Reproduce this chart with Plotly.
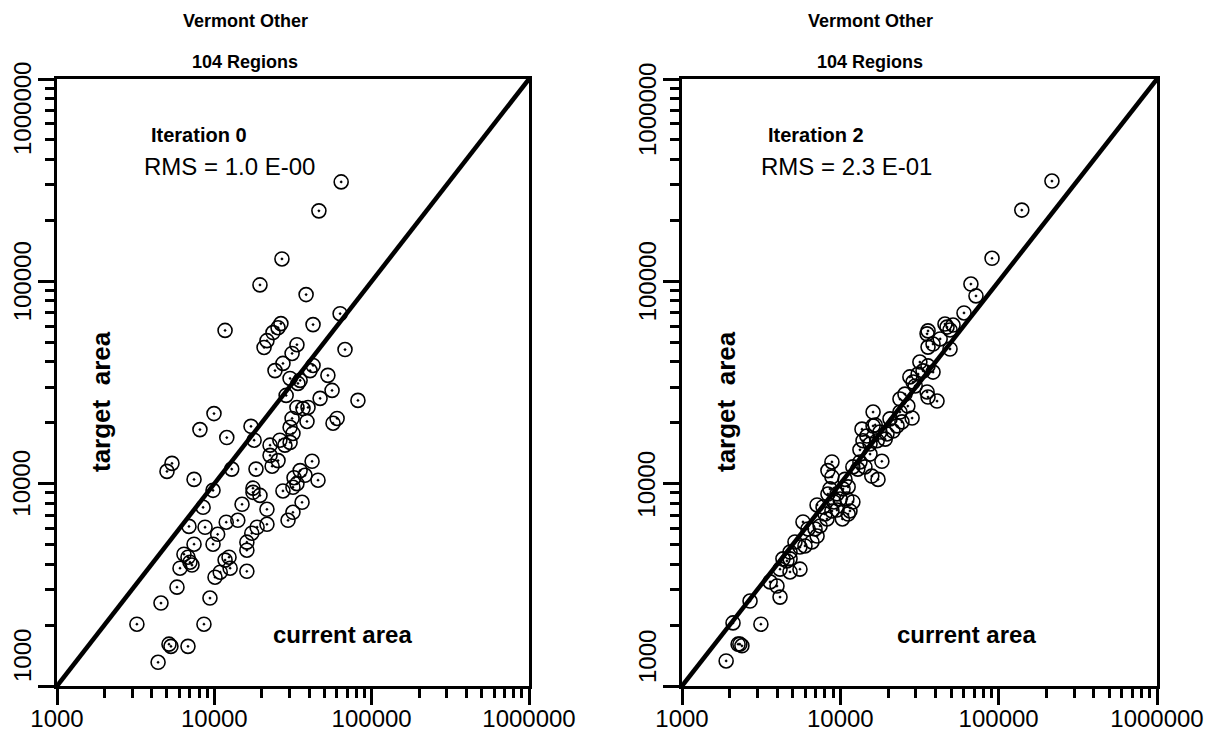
import math
import plotly.graph_objects as go

W, H = 1207, 735

# ---------------- data ----------------
tick_vals = [1000, 10000, 100000, 1000000]
tick_text = ["1000", "10000", "100000", "1000000"]
diag = [1000, 1000000]

panel_title = "Vermont Other"
panel_subtitle = "104 Regions"
iter_labels = ["Iteration 0", "Iteration 2"]
rms_labels = ["RMS = 1.0 E-00", "RMS = 2.3 E-01"]
x_label = "current area"
y_label = "target\u00a0\u00a0area"

# Iteration 0: current area vs target area
iter0_current = [64000, 46200, 26900, 19500, 38300, 63000, 11700, 42400, 67700, 26500,
                 25400, 23600, 21600, 20700, 33500, 31200, 27300, 24300, 30300, 42400,
                 40600, 52700, 35100, 34000, 56000, 81800,
                 33500, 36600, 39400, 31200, 38800, 60300, 56800, 30300, 31600, 30300,
                 9950, 8100, 12000, 17100, 17900, 22600, 26100, 5380, 5000, 7430,
                 12900, 18400, 25400, 23300, 41800, 32100, 37700, 45600, 33500, 31600,
                 27300, 17600, 17600, 9810, 8480, 15000, 21600, 21600, 36100, 31600,
                 29400, 6900, 8730, 11900, 10500, 9810, 7430, 18700, 17300, 16100,
                 16100, 6410, 6800, 7210, 6050, 12400, 12600, 10900, 10100, 16100,
                 5790, 9380, 4580, 3220, 8590, 5150, 5300, 6800, 4390,
                 28600, 22600, 35100, 19500, 11700, 7000, 47000, 28100, 14100]
iter0_target = [310000, 223000, 129000, 96000, 86000, 69200, 57200, 61100, 46000, 61800,
                59000, 55800, 50900, 47100, 48600, 44000, 39300, 36200, 33100, 38400,
                36200, 34300, 32400, 31300, 28900, 25800,
                23800, 23500, 23800, 21000, 20300, 21000, 19900, 19000, 17700, 16000,
                22200, 18500, 16900, 19200, 16400, 15500, 16400, 12600, 11500, 10500,
                11800, 11800, 13000, 12200, 12900, 10700, 11000, 10400, 10000, 9600,
                9200, 9500, 9060, 9270, 7640, 7910, 7470, 6300, 8090, 7220,
                6590, 6150, 6090, 6450, 5620, 5020, 5020, 6090, 5690, 5140,
                4690, 4480, 4330, 3960, 3820, 4330, 3820, 3650, 3450, 3690,
                3080, 2720, 2570, 2020, 2020, 1610, 1570, 1570, 1310,
                27300, 13800, 11600, 8750, 4190, 4090, 26400, 15500, 6590]

# Iteration 2: current area vs target area
iter2_current = [217000, 140000, 90800, 66800, 71900, 60400, 51500, 47200, 45800, 35800,
                 35300, 35800, 38500, 49300, 31800, 35800, 33300, 38500, 27500, 29700,
                 35800, 28800, 35300, 40800, 26700, 23800, 28400, 24500, 16100, 13700,
                 14700, 16100, 17800, 19700, 21500, 22800, 13900, 15400, 17100, 18300,
                 17300, 15800, 14300, 13300, 12000, 8850, 8350, 8850, 8600, 9530,
                 10400, 11200, 11000, 12000, 11500, 10300, 11200, 9120, 9530, 8850,
                 7780, 7130, 8240, 7450, 6250, 5810, 7130, 6620, 5980, 5170,
                 4810, 4600, 4340, 4160, 4810, 5560, 3980, 4160, 2690, 3150,
                 2100, 2320, 2390, 2260, 1900,
                 25600, 42700, 31000, 20600, 19200, 15400, 12900, 10700, 9960, 8350,
                 8000, 6920, 5560, 4810, 3600, 13300, 16600, 49300, 23800]
iter2_target = [313000, 225000, 130000, 97000, 84700, 69800, 60800, 59400, 61500, 56900,
                55000, 47300, 49000, 46300, 39900, 38200, 36100, 35600, 33700, 30400,
                26800, 31800, 28400, 25600, 24200, 22600, 21100, 20200, 22600, 18600,
                17200, 19300, 18000, 17600, 18200, 19300, 16300, 15700, 16300, 12900,
                10500, 10900, 12100, 12800, 12100, 12800, 11600, 10800, 9420, 8900,
                9420, 9640, 8400, 8120, 7330, 6690, 7080, 8120, 7410, 7330,
                7670, 7850, 6690, 6180, 5970, 6470, 5510, 5150, 4920, 5150,
                4590, 4150, 4250, 3780, 3660, 3780, 3120, 2750, 2630, 2020,
                2050, 1610, 1580, 1610, 1330,
                27700, 51900, 34800, 20900, 16600, 14000, 11800, 10500, 8400, 8890,
                7080, 5970, 4860, 4250, 3270, 14700, 19500, 57500, 26200]

panels = [(iter0_current, iter0_target), (iter2_current, iter2_target)]

# ---------------- layout geometry (pixels) ----------------
FONT = "Liberation Sans, Arial, Helvetica, sans-serif"
left_px = [57, 682]
right_px = [529, 1157]
top_px, bottom_px = 79, 686
panel_shift = 625
label_shift = [0, 617]

fig = go.Figure()

minor_vals = [k * 10 ** d for d in range(3, 6) for k in range(2, 10)]

for i, (cur, tgt) in enumerate(panels):
    xa = "x" if i == 0 else "x2"
    ya = "y" if i == 0 else "y2"
    fig.add_trace(go.Scatter(
        x=diag, y=diag, mode="lines", xaxis=xa, yaxis=ya,
        line=dict(color="black", width=4.5), showlegend=False, hoverinfo="skip"))
    fig.add_trace(go.Scatter(
        x=cur, y=tgt, mode="markers", xaxis=xa, yaxis=ya,
        marker=dict(symbol="circle-open-dot", size=14, color="black",
                    line=dict(width=1.6, color="black")),
        showlegend=False))

axis_common = dict(
    type="log", range=[3, 6], showline=True, linecolor="black", linewidth=3,
    mirror=True, ticks="outside", ticklen=16, tickwidth=3, tickcolor="black",
    showgrid=False, zeroline=False, automargin=False,
    tickmode="array", tickvals=tick_vals, ticktext=tick_text,
    tickfont=dict(family=FONT, size=24, color="black"),
    minor=dict(tickmode="array", tickvals=minor_vals, ticks="outside",
               ticklen=9, tickwidth=2.5, tickcolor="black", showgrid=False),
)

ydom = [1 - bottom_px / H, 1 - top_px / H]
fig.update_layout(
    width=W, height=H,
    margin=dict(l=0, r=0, t=0, b=0, pad=0, autoexpand=False),
    paper_bgcolor="white", plot_bgcolor="white",
    xaxis=dict(axis_common, domain=[left_px[0] / W, right_px[0] / W], anchor="y",
               ticklabelstandoff=-7),
    yaxis=dict(axis_common, domain=ydom, anchor="x", showticklabels=False),
    xaxis2=dict(axis_common, domain=[left_px[1] / W, right_px[1] / W], anchor="y2",
                ticklabelstandoff=-7),
    yaxis2=dict(axis_common, domain=ydom, anchor="x2", showticklabels=False),
)

ann = []
yshift_map = {1000: 30, 1000000: -30}
for i in range(2):
    off = panel_shift * i
    loff = label_shift[i]
    ya = "y" if i == 0 else "y2"
    # rotated y tick labels
    for v, t in zip(tick_vals, tick_text):
        ann.append(dict(text=t, xref="paper", yref=ya, x=(22 + off) / W,
                        y=math.log10(v), xanchor="center", yanchor="middle",
                        textangle=-90, showarrow=False, yshift=yshift_map.get(v, 0),
                        font=dict(family=FONT, size=24, color="black")))
    ann.append(dict(text=panel_title, xref="paper", yref="paper",
                    x=(245 + off) / W, y=1 - 21 / H, xanchor="center", yanchor="middle",
                    showarrow=False,
                    font=dict(family=FONT, size=18, color="black", weight="bold")))
    ann.append(dict(text=panel_subtitle, xref="paper", yref="paper",
                    x=(245 + off) / W, y=1 - 62 / H, xanchor="center", yanchor="middle",
                    showarrow=False,
                    font=dict(family=FONT, size=18, color="black", weight="bold")))
    ann.append(dict(text=iter_labels[i], xref="paper", yref="paper",
                    x=(149 + loff) / W, y=1 - 135 / H, xanchor="left", yanchor="middle",
                    showarrow=False,
                    font=dict(family=FONT, size=20, color="black", weight="bold")))
    ann.append(dict(text=rms_labels[i], xref="paper", yref="paper",
                    x=(142 + loff) / W, y=1 - 166 / H, xanchor="left", yanchor="middle",
                    showarrow=False,
                    font=dict(family=FONT, size=24, color="black")))
    ann.append(dict(text=y_label, xref="paper", yref="paper",
                    x=(101 + off) / W, y=1 - 402 / H, xanchor="center", yanchor="middle",
                    textangle=-90, showarrow=False,
                    font=dict(family=FONT, size=26, color="black", weight="bold")))
    ann.append(dict(text=x_label, xref="paper", yref="paper",
                    x=(342 + off) / W, y=1 - 634 / H, xanchor="center", yanchor="middle",
                    showarrow=False,
                    font=dict(family=FONT, size=24, color="black", weight="bold")))

fig.update_layout(annotations=ann)
fig.write_html("out.html")
